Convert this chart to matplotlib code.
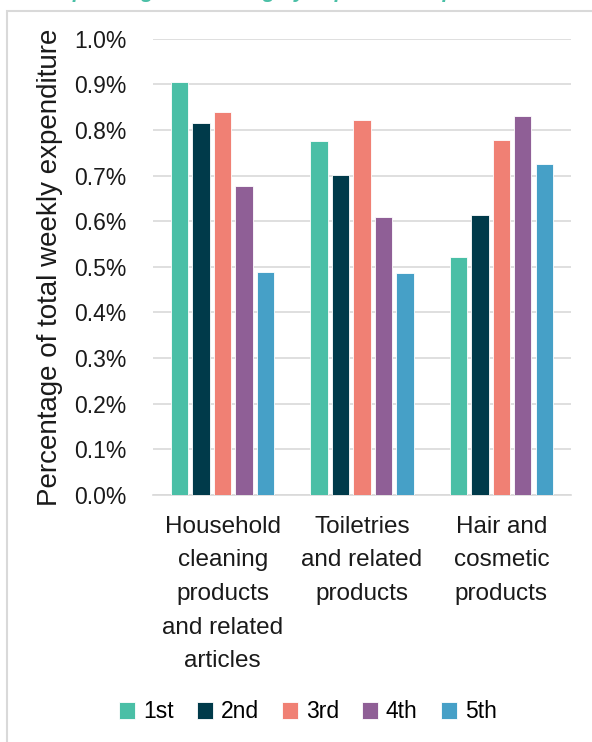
import matplotlib
matplotlib.use('Agg')
import matplotlib.pyplot as plt
import numpy as np
from matplotlib.patches import Rectangle

categories = ["Household\ncleaning\nproducts\nand related\narticles",
              "Toiletries\nand related\nproducts",
              "Hair and\ncosmetic\nproducts"]
quintiles = ["1st", "2nd", "3rd", "4th", "5th"]
# share of total weekly expenditure (%) per quintile, one list per category order
q1 = [0.905, 0.776, 0.521]
q2 = [0.816, 0.701, 0.614]
q3 = [0.840, 0.822, 0.778]
q4 = [0.678, 0.609, 0.830]
q5 = [0.488, 0.487, 0.725]
series = [q1, q2, q3, q4, q5]
colors = ['#4ABFA6', '#003A4A', '#F08074', '#8F5F96', '#46A0C7']

plt.rcParams['font.family'] = ['Liberation Sans', 'DejaVu Sans']

fig = plt.figure(figsize=(5.92, 7.42), dpi=100, facecolor='white')
ax = fig.add_axes([0.2584, 0.3329, 0.7061, 0.6149])

x = np.arange(len(categories))
step = 0.154
for i, (vals, c) in enumerate(zip(series, colors)):
    ax.bar(x + (i - 2) * step, vals, width=0.125, color=c, label=quintiles[i],
           edgecolor='white', linewidth=0.6, zorder=3)

ax.set_xlim(-0.5, 2.5)
ax.set_ylim(0, 1.0)
ax.set_yticks(np.arange(0, 1.01, 0.1))
ax.set_yticklabels([f"{v:.1f}%" for v in np.arange(0, 1.01, 0.1)], fontsize=16.5, color='#1a1a1a')
ax.set_xticks(x)
ax.set_xticklabels(categories, fontsize=17.5, color='#1a1a1a', linespacing=1.68)
ax.tick_params(axis='both', length=0)
ax.tick_params(axis='x', pad=15)
ax.tick_params(axis='y', pad=19)
ax.grid(axis='y', color='#D9D9D9', linewidth=1.2, zorder=0)
for s in ['top', 'right', 'left']:
    ax.spines[s].set_visible(False)
ax.spines['bottom'].set_color('#D9D9D9')
ax.spines['bottom'].set_linewidth(1.2)

ax.set_ylabel("Percentage of total weekly expenditure", fontsize=20, color='#1a1a1a', labelpad=8)

leg = fig.legend(loc='center', bbox_to_anchor=(0.52, 1 - 712 / 742), ncol=5, frameon=False,
                 fontsize=16.5, handlelength=0.7, handleheight=0.7, handletextpad=0.35,
                 columnspacing=1.0)

# outer frame of the original slide/card, partly cropped
fig.patches.append(Rectangle((7 / 592, -0.1), 1.2, 1.1 - 11 / 742, transform=fig.transFigure,
                             fill=False, edgecolor='#D9D9D9', linewidth=1.5))

# title, mostly cut off at the top edge
fig.text(0.48, 1 + 2.5 / 742, "Spending on cleaning by expenditure quintile",
         ha='center', va='baseline', fontsize=15, fontweight='bold', fontstyle='italic',
         color='#4ABFA6')

fig.savefig('out.png', dpi=100, facecolor='white')
